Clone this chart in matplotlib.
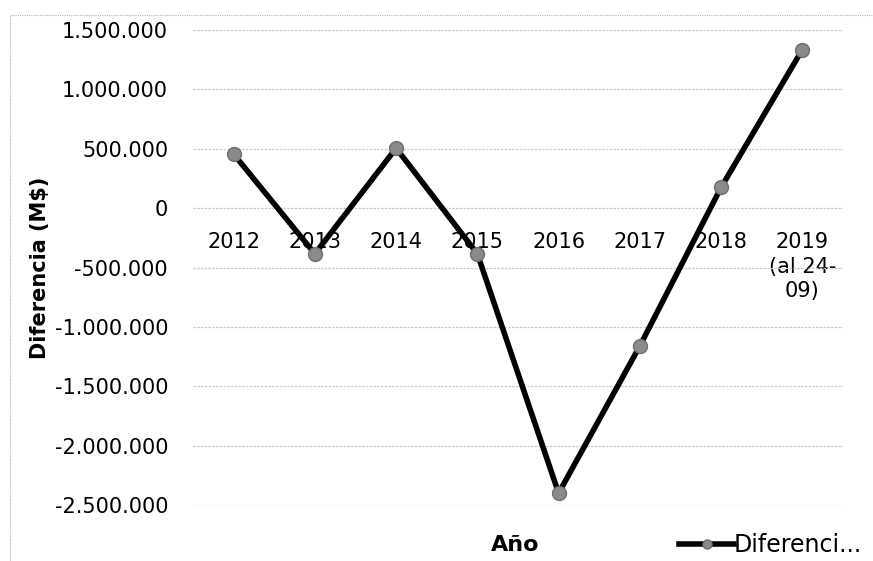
import matplotlib
matplotlib.use('Agg')
import matplotlib.pyplot as plt
from matplotlib.patches import Rectangle

years = ['2012', '2013', '2014', '2015', '2016', '2017', '2018', '2019\n(al 24-\n09)']
diferencia = [455000, -385000, 505000, -385000, -2400000, -1160000, 175000, 1335000]
yticks = [1500000, 1000000, 500000, 0, -500000, -1000000, -1500000, -2000000, -2500000]

plt.rcParams['font.family'] = ['DejaVu Sans']

fig = plt.figure(figsize=(8.73, 5.61), dpi=100)
ax = fig.add_axes([193 / 873, 1 - 505 / 561, 650 / 873, 475 / 561])

x = list(range(len(years)))
ax.plot(x, diferencia, color='black', lw=4, marker='o', markersize=10,
        markerfacecolor='#8a8a8a', markeredgecolor='#6e6e6e', markeredgewidth=1,
        label='Diferenci...', zorder=3)

ax.set_xlim(-0.5, len(years) - 0.5)
ax.set_ylim(-2500000, 1500000)
ax.set_yticks(yticks)
ax.set_yticklabels([f"{v:,}".replace(',', '.') for v in yticks], fontsize=15)
ax.yaxis.grid(True, color='#c8c8c8', lw=0.9, ls=(0, (2, 1)))
ax.set_axisbelow(True)

# category axis sits on the zero line
ax.spines['bottom'].set_position(('data', 0))
for s in ['top', 'right', 'left', 'bottom']:
    ax.spines[s].set_visible(False)
ax.set_xticks(x)
ax.set_xticklabels(years, fontsize=15, linespacing=1.3, multialignment='center')
ax.tick_params(axis='x', length=0, pad=17)
ax.tick_params(axis='y', length=0, pad=18)

fig.text(40 / 873, 1 - 268 / 561, 'Diferencia (M$)', rotation=90, fontsize=15,
         fontweight='bold', ha='center', va='center')
fig.text(515 / 873, 1 - 545 / 561, 'Año', fontsize=16, fontweight='bold',
         ha='center', va='center')

fig.legend(loc='center left', bbox_to_anchor=(670 / 873, 1 - 545 / 561), frameon=False,
           fontsize=17, handlelength=2.3, handletextpad=0.0, borderaxespad=0,
           markerscale=0.65)

# outer chart border (cropped on the right and bottom)
fig.patches.append(Rectangle((10 / 873, -0.1), 1.1, 1 - 15 / 561 + 0.1,
                             transform=fig.transFigure, fill=False,
                             edgecolor='#b0b0b0', lw=0.8, ls=(0, (1, 1))))

fig.savefig('out.png', dpi=100)
